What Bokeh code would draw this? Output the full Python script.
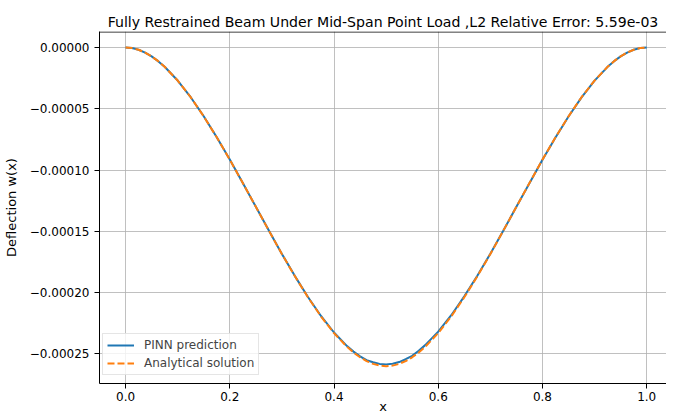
from bokeh.plotting import figure
from bokeh.models import Range1d, Span, Legend, LegendItem, FixedTicker, CustomJSTickFormatter
from bokeh.embed import file_html
from bokeh.resources import INLINE

# ---------------- data ----------------
x_vals = [0.0, 0.0125, 0.025, 0.0375, 0.05, 0.0625, 0.075,
          0.1, 0.125, 0.15, 0.175, 0.2, 0.225, 0.25,
          0.275, 0.3, 0.325, 0.35, 0.375, 0.4, 0.425,
          0.4375, 0.45, 0.4625, 0.475, 0.4875, 0.5, 0.5125,
          0.525, 0.5375, 0.55, 0.5625, 0.575, 0.6, 0.625,
          0.65, 0.675, 0.7, 0.725, 0.75, 0.775, 0.8,
          0.825, 0.85, 0.875, 0.9, 0.925, 0.9375, 0.95,
          0.9625, 0.975, 0.9875, 1.0]

pinn_w = [0.0, -0.05e-5, -0.19e-5, -0.42e-5, -0.73e-5, -1.12e-5, -1.58e-5,
          -2.70e-5, -4.06e-5, -5.61e-5, -7.32e-5, -9.14e-5, -11.05e-5, -12.99e-5,
          -14.93e-5, -16.84e-5, -18.65e-5, -20.35e-5, -21.90e-5, -23.25e-5, -24.36e-5,
          -24.81e-5, -25.20e-5, -25.51e-5, -25.68e-5, -25.81e-5, -25.85e-5, -25.80e-5,
          -25.66e-5, -25.43e-5, -25.15e-5, -24.74e-5, -24.28e-5, -23.18e-5, -21.84e-5,
          -20.30e-5, -18.62e-5, -16.82e-5, -14.93e-5, -13.00e-5, -11.07e-5, -9.16e-5,
          -7.34e-5, -5.63e-5, -4.07e-5, -2.71e-5, -1.58e-5, -1.12e-5, -0.73e-5,
          -0.42e-5, -0.19e-5, -0.05e-5, 0.0]

analytical_w = [0.0, -0.05e-5, -0.19e-5, -0.42e-5, -0.73e-5, -1.12e-5, -1.58e-5,
                -2.70e-5, -4.06e-5, -5.62e-5, -7.33e-5, -9.15e-5, -11.06e-5, -13.00e-5,
                -14.94e-5, -16.85e-5, -18.67e-5, -20.38e-5, -21.94e-5, -23.30e-5, -24.42e-5,
                -24.88e-5, -25.27e-5, -25.58e-5, -25.81e-5, -25.95e-5, -26.00e-5, -25.95e-5,
                -25.81e-5, -25.58e-5, -25.27e-5, -24.88e-5, -24.42e-5, -23.30e-5, -21.94e-5,
                -20.38e-5, -18.67e-5, -16.85e-5, -14.94e-5, -13.00e-5, -11.06e-5, -9.15e-5,
                -7.33e-5, -5.62e-5, -4.06e-5, -2.70e-5, -1.58e-5, -1.12e-5, -0.73e-5,
                -0.42e-5, -0.19e-5, -0.05e-5, 0.0]

x_ticks = [0.0, 0.2, 0.4, 0.6, 0.8, 1.0]
y_ticks = [0.0, -0.00005, -0.0001, -0.00015, -0.0002, -0.00025]

title_text = "Fully Restrained Beam Under Mid-Span Point Load ,L2 Relative Error: 5.59e-03"
x_label = "x"
y_label = "Deflection w(x)"
series_labels = ["PINN prediction", "Analytical solution"]

# ---------------- figure ----------------
FONT = "DejaVu Sans"
Y_START, Y_END = -0.0002741, 0.000013

p = figure(width=666, height=416, output_backend="svg", toolbar_location=None,
           x_range=Range1d(-0.05, 1.038), y_range=Range1d(Y_START, Y_END),
           min_border_left=91, min_border_right=0, min_border_top=31, min_border_bottom=30)
p.outline_line_color = None
p.background_fill_color = "white"
p.border_fill_color = "white"

r1 = p.line(x_vals, pinn_w, line_color="#1f77b4", line_width=2)
r2 = p.line(x_vals, analytical_w, line_color="#ff7f0e", line_width=2, line_dash="7 3")

# title
p.title.text = title_text
p.title.align = "center"
p.title.offset = 3
p.title.text_font = FONT
p.title.text_font_size = "14.1px"
p.title.text_font_style = "normal"
p.title.text_color = "black"
p.title.standoff = 4

# axes
for ax in (p.xaxis[0], p.yaxis[0]):
    ax.axis_line_color = "black"
    ax.axis_line_width = 1
    ax.major_tick_line_color = "black"
    ax.major_tick_out = 5
    ax.major_tick_in = 0
    ax.minor_tick_line_color = None
    ax.major_label_text_font = FONT
    ax.major_label_text_font_size = "12px"
    ax.major_label_text_color = "black"
    ax.major_label_standoff = 3
    ax.axis_label_text_font = FONT
    ax.axis_label_text_font_size = "13px"
    ax.axis_label_text_font_style = "normal"
    ax.axis_label_text_color = "black"

p.xaxis[0].ticker = FixedTicker(ticks=x_ticks)
p.yaxis[0].ticker = FixedTicker(ticks=y_ticks)
p.xaxis[0].formatter = CustomJSTickFormatter(code="return tick.toFixed(1);")
p.yaxis[0].formatter = CustomJSTickFormatter(code="""
if (Math.abs(tick) < 1e-12) { return "0.00000"; }
return (tick < 0 ? "\u2212" : "") + Math.abs(tick).toFixed(5);
""")

p.yaxis[0].axis_label = y_label
p.yaxis[0].axis_label_standoff = 8
p.yaxis[0].major_label_standoff = 5
p.xaxis[0].axis_label = x_label
p.xaxis[0].axis_label_standoff = -5

# grid
for g in (p.xgrid[0], p.ygrid[0]):
    g.grid_line_color = "#b0b0b0"
    g.grid_line_width = 0.8

# top spine (no right spine, the reference is cut there)
p.add_layout(Span(location=Y_END - 4e-7, dimension="width", line_color="black", line_width=1))

legend = Legend(items=[LegendItem(label=series_labels[0], renderers=[r1]),
                       LegendItem(label=series_labels[1], renderers=[r2])],
                location=(3, 8), margin=0, padding=4, spacing=4,
                glyph_width=27, glyph_height=14, label_height=14, label_standoff=10,
                label_text_font=FONT, label_text_font_size="12px",
                border_line_color="#cccccc", border_line_width=1,
                background_fill_color="white", background_fill_alpha=0.8)
p.add_layout(legend)

open("out.html", "w").write(file_html(p, INLINE))
